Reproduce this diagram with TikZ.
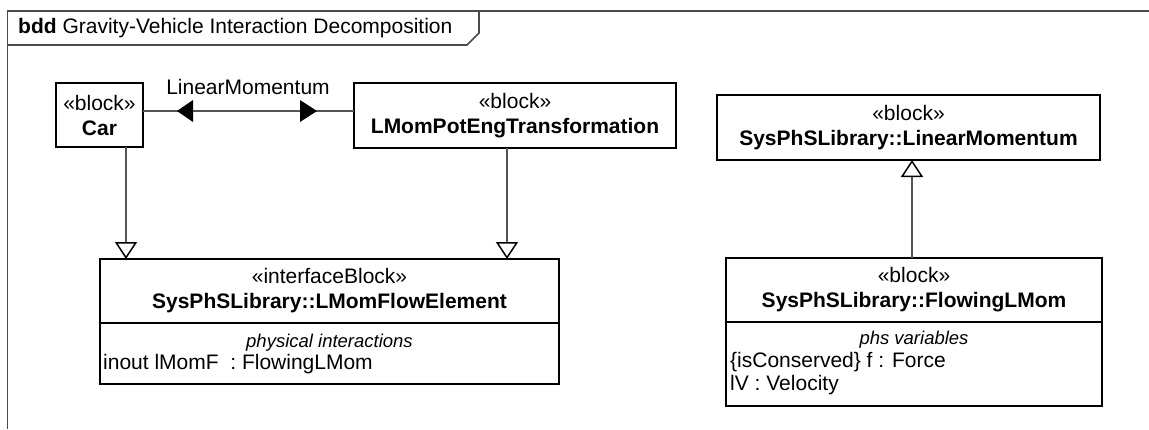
\documentclass[tikz,border=0pt]{standalone}
\usepackage{fontspec}
\setmainfont{Liberation Sans}
\usetikzlibrary{arrows.meta,calc}
\definecolor{linegray}{HTML}{555555}
\definecolor{framegray}{HTML}{4A4A4A}
\begin{document}
\begin{tikzpicture}[x=1pt,y=-1pt,
  every node/.style={font=\fontsize{21}{25}\selectfont, inner sep=0pt, text=black},
  blockbox/.style={draw=black, line width=2pt, rectangle, align=center, inner sep=0pt, outer sep=0pt},
  compbox/.style={draw=black, line width=2pt, rectangle, inner sep=0pt, outer sep=0pt},
  itlabel/.style={font=\fontsize{18.5}{22}\selectfont\itshape},
  framel/.style={draw=framegray, line width=1.6pt},
  conn/.style={draw=linegray, line width=1.5pt},
  gen/.style={conn, -{Triangle[open, width=22pt, length=17pt, color=black, fill=white, line width=1.5pt]}},
  flowtip/.style={fill=black}
]
\useasboundingbox (0,0) rectangle (1149,429);
% frame
\draw[framel] (7.5,429) -- (7.5,11) -- (1149,11);
\draw[framel] (7.5,45) -- (467,45) -- (479,33) -- (479,11);
\node[anchor=west] (title) at (18,28) {\textbf{bdd} Gravity-Vehicle Interaction Decomposition};

% blocks
\node[blockbox, minimum width=87pt, minimum height=64pt] (car) at (99.5,115) {«block»\\\textbf{Car}};
\node[blockbox, minimum width=322pt, minimum height=65pt] (lmp) at (515,115.5) {«block»\\\textbf{LMomPotEngTransformation}};
\node[blockbox, minimum width=383pt, minimum height=65pt] (lmo) at (908.5,127.5) {«block»\\\textbf{SysPhSLibrary::LinearMomentum}};

\node[blockbox, minimum width=459pt, minimum height=64pt] (lmf) at (329.5,291) {«interfaceBlock»\\\textbf{SysPhSLibrary::LMomFlowElement}};
\node[compbox, minimum width=459pt, minimum height=61pt, anchor=north] (lmfc) at (lmf.south) {};
\node[itlabel] (lmfpi) at (329.5,343) {physical interactions};
\node[anchor=west] (lmfattr) at (103,364) {inout lMomF\ \ : FlowingLMom};

\node[blockbox, minimum width=376pt, minimum height=64pt] (flm) at (914,290) {«block»\\\textbf{SysPhSLibrary::FlowingLMom}};
\node[compbox, minimum width=376pt, minimum height=84pt, anchor=north] (flmc) at (flm.south) {};
\node[itlabel] (flmpv) at (914,340) {phs variables};
\node[anchor=west] (flmf) at (730,362) {\{isConserved\} f : Force};
\node[anchor=west] (flmv) at (730,385) {lV : Velocity};

% association with item flow
\coordinate (ay) at (0,111);
\draw[conn] (car.east |- ay) -- (lmp.west |- ay);
\fill[flowtip] (177,111) -- (193,100) -- (193,122) -- cycle;
\fill[flowtip] (317,111) -- (300,100) -- (300,122) -- cycle;
\node (lmlabel) at (248,87) {LinearMomentum};

% generalizations
\coordinate (g1) at (126,0);
\coordinate (g2) at (507,0);
\coordinate (g3) at (912,0);
\draw[gen] (car.south -| g1) -- (lmf.north -| g1);
\draw[gen] (lmp.south -| g2) -- (lmf.north -| g2);
\draw[gen] (flm.north -| g3) -- (lmo.south -| g3);
\end{tikzpicture}
\end{document}
